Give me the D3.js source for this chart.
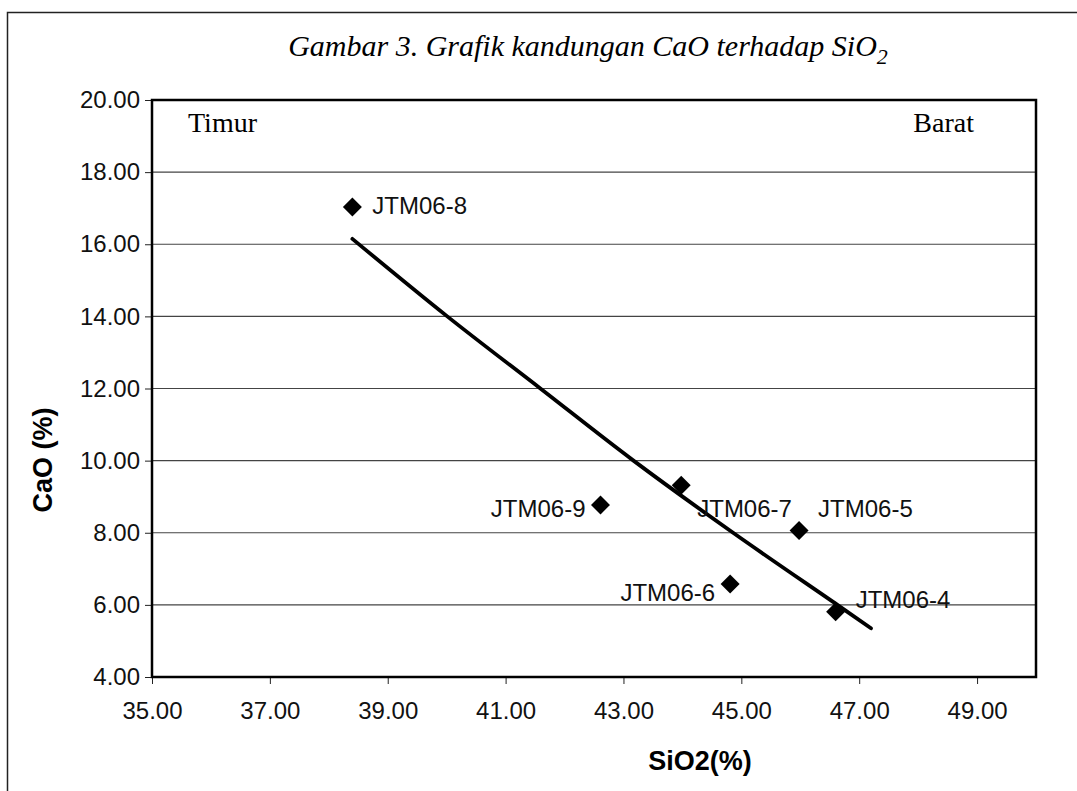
<!DOCTYPE html>
<html>
<head>
<meta charset="utf-8">
<script src="https://cdn.jsdelivr.net/npm/d3@7"></script>
<style>
  body { margin: 0; background: #fff; }
  svg { display: block; }
</style>
</head>
<body>
<svg id="chart" width="1077" height="791"></svg>
<script>
// sample names and values
var sampleNames = ["JTM06-8", "JTM06-9", "JTM06-7", "JTM06-5", "JTM06-6", "JTM06-4"];
var sio2 = [38.40, 42.61, 43.98, 45.98, 44.81, 46.60];
var cao  = [17.03, 8.77, 9.32, 8.06, 6.58, 5.81];

// hand drawn trend line
var trendSio2 = [38.40, 40.01, 41.59, 43.17, 44.86, 46.63, 47.20];
var trendCao  = [16.15, 14.00, 12.00, 10.00, 8.00, 6.00, 5.35];

var xTicks = [35, 37, 39, 41, 43, 45, 47, 49];
var yTicks = [4, 6, 8, 10, 12, 14, 16, 18, 20];

// where each label sits relative to its marker
var labelPlace = {
  "JTM06-8": [20, 7, "start"],
  "JTM06-9": [-15, 12, "end"],
  "JTM06-7": [16, 32, "start"],
  "JTM06-5": [19, -14, "start"],
  "JTM06-6": [-15, 17, "end"],
  "JTM06-4": [20, -4, "start"]
};

var margin = {top: 100, left: 152},
    width = 884,
    height = 577;

var svg = d3.select("#chart");

// outer frame
svg.append("rect")
  .attr("x", 7.5).attr("y", 12.5)
  .attr("width", 1100).attr("height", 800)
  .attr("fill", "none").attr("stroke", "#222").attr("stroke-width", 1.5);

// title
var title = svg.append("text")
  .attr("x", 588).attr("y", 56)
  .attr("text-anchor", "middle")
  .style("font-family", "'Liberation Serif', serif")
  .style("font-style", "italic")
  .style("font-size", "30px");
title.append("tspan").text("Gambar 3. Grafik kandungan CaO terhadap SiO");
title.append("tspan").attr("dy", 8).style("font-size", "22px").text("2");

var g = svg.append("g").attr("transform", "translate(" + margin.left + "," + margin.top + ")");

var x = d3.scaleLinear().domain([35, 50]).range([0, width]);
var y = d3.scaleLinear().domain([4, 20]).range([height, 0]);

// gridlines
g.selectAll(".grid")
  .data(yTicks.filter(function (d) { return d > 4 && d < 20; }))
  .enter().append("line")
  .attr("x1", 0).attr("x2", width)
  .attr("y1", function (d) { return y(d); })
  .attr("y2", function (d) { return y(d); })
  .attr("stroke", "#444").attr("stroke-width", 1.2);

var xAxis = d3.axisBottom(x).tickValues(xTicks).tickFormat(d3.format(".2f")).tickSize(7).tickSizeOuter(0).tickPadding(18);
var yAxis = d3.axisLeft(y).tickValues(yTicks).tickFormat(d3.format(".2f")).tickSize(7).tickSizeOuter(0).tickPadding(5);

var gx = g.append("g").attr("transform", "translate(0," + height + ")").call(xAxis);
var gy = g.append("g").call(yAxis);
[gx, gy].forEach(function (a) {
  a.select(".domain").remove();
  a.selectAll("line").attr("stroke", "#222").attr("stroke-width", 1);
  a.selectAll("text")
    .style("font-family", "'Liberation Sans', Arial, sans-serif")
    .style("font-size", "24px")
    .attr("fill", "#111");
});

// plot frame
g.append("rect")
  .attr("x", 0).attr("y", 0)
  .attr("width", width).attr("height", height)
  .attr("fill", "none").attr("stroke", "#000").attr("stroke-width", 2.5);

// Timur / Barat
g.append("text")
  .attr("x", 36).attr("y", 32)
  .style("font-family", "'Liberation Serif', serif")
  .style("font-size", "28px")
  .text("Timur");
g.append("text")
  .attr("x", 822).attr("y", 32)
  .attr("text-anchor", "end")
  .style("font-family", "'Liberation Serif', serif")
  .style("font-size", "28px")
  .text("Barat");

// trend line
var trend = trendSio2.map(function (v, i) { return [v, trendCao[i]]; });
var line = d3.line()
  .x(function (d) { return x(d[0]); })
  .y(function (d) { return y(d[1]); })
  .curve(d3.curveCatmullRom);
g.append("path")
  .attr("d", line(trend))
  .attr("fill", "none")
  .attr("stroke", "#000")
  .attr("stroke-width", 3.8)
  .attr("stroke-linecap", "round");

// points
var pts = sampleNames.map(function (n, i) { return {name: n, x: sio2[i], y: cao[i]}; });
var diamond = d3.symbol().type(d3.symbolSquare).size(180);

var pg = g.selectAll(".pt")
  .data(pts)
  .enter().append("g")
  .attr("transform", function (d) { return "translate(" + x(d.x) + "," + y(d.y) + ")"; });

pg.append("path")
  .attr("d", diamond)
  .attr("transform", "rotate(45)")
  .attr("fill", "#000");

pg.append("text")
  .attr("x", function (d) { return labelPlace[d.name][0]; })
  .attr("y", function (d) { return labelPlace[d.name][1]; })
  .attr("text-anchor", function (d) { return labelPlace[d.name][2]; })
  .style("font-family", "'Liberation Sans', Arial, sans-serif")
  .style("font-size", "24px")
  .attr("fill", "#111")
  .text(function (d) { return d.name; });

// axis titles
svg.append("text")
  .attr("x", 700).attr("y", 770)
  .attr("text-anchor", "middle")
  .style("font-family", "'Liberation Sans', Arial, sans-serif")
  .style("font-weight", "bold")
  .style("font-size", "27px")
  .text("SiO2(%)");

svg.append("text")
  .attr("transform", "translate(52,460)rotate(-90)")
  .attr("text-anchor", "middle")
  .style("font-family", "'Liberation Sans', Arial, sans-serif")
  .style("font-weight", "bold")
  .style("font-size", "27px")
  .text("CaO (%)");
</script>
</body>
</html>
